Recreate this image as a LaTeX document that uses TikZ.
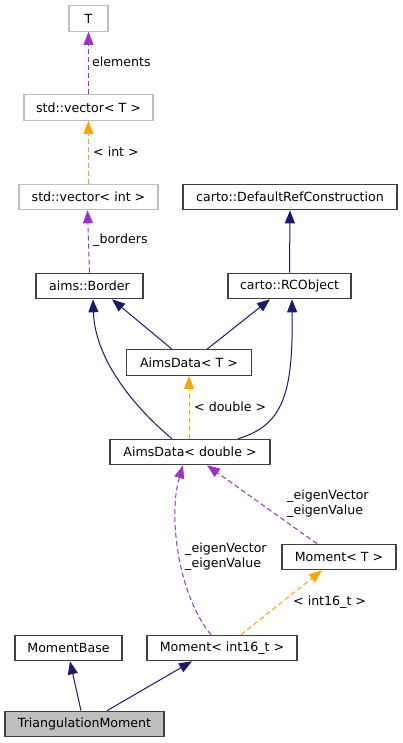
\documentclass[tikz,border=0pt]{standalone}
\usepackage{fontspec}
\setmainfont{DejaVu Sans}
\usetikzlibrary{arrows.meta}
\definecolor{navy}{HTML}{191970}
\definecolor{orch}{HTML}{9A32CD}
\definecolor{orng}{HTML}{FFA500}
\definecolor{boxline}{HTML}{404040}
\definecolor{lgray}{HTML}{BFBFBF}
\begin{document}
\begin{tikzpicture}[x=1pt,y=-1pt,
  txt/.style={font=\fontsize{12.6}{14.7}\selectfont},
  box/.style={txt, draw=boxline, line width=1.1pt, minimum height=25.5pt, inner sep=0pt},
  ext/.style={box, draw=lgray},
  tip/.style={-{Triangle[length=13pt,width=10pt]}},
  inh/.style={tip, draw=navy, line width=1pt},
  use/.style={tip, draw=orch, line width=1pt, dash pattern=on 5pt off 3pt},
  tmpl/.style={tip, draw=orng, line width=1pt, dash pattern=on 5pt off 3pt},
  lbl/.style={txt, anchor=west, inner sep=0pt, align=left}]
\fill[white] (0,0) rectangle (403,743);
\useasboundingbox (0,0) rectangle (403,743);

\node[ext, minimum width=39pt]  (T)      at (88.5,18.5)  {T};
\node[ext, minimum width=129pt] (vecT)   at (88.5,107.5) {std::vector< T >};
\node[ext, minimum width=139pt] (vecint) at (88.5,197)   {std::vector< int >};
\node[box, minimum width=214pt] (drc)    at (290,197)    {carto::DefaultRefConstruction};
\node[box, minimum width=107pt] (border) at (89.5,286)   {aims::Border};
\node[box, minimum width=123pt] (rco)    at (289.5,286)  {carto::RCObject};
\node[box, minimum width=125pt] (adT)    at (189,362.5)  {AimsData< T >};
\node[box, minimum width=160pt] (add)    at (190,452)    {AimsData< double >};
\node[box, minimum width=114pt] (momT)   at (339,557)    {Moment< T >};
\node[box, minimum width=107pt] (mb)     at (68.5,648)   {MomentBase};
\node[box, minimum width=150pt] (mi16)   at (222,648)    {Moment< int16\_t >};
\node[box, minimum width=159pt, fill=lgray] (tri) at (84.5,724) {TriangulationMoment};

% top chain
\draw[use]  (vecT.north) -- (T.south);
\node[lbl] (l1) at (92,62) {elements};
\draw[tmpl] (vecint.north) -- (vecT.south);
\node[lbl] (l2) at (93,152) {< int >};
\draw[use]  (border.north) -- ([xshift=-1pt]vecint.south);
\node[lbl] (l3) at (93,240) {\_borders};

\draw[inh] (rco.north) -- (drc.south);

\draw[inh] ([xshift=-17pt]adT.north) -- ([xshift=22.5pt]border.south);
\draw[inh] ([xshift=18pt]adT.north) -- ([xshift=-19.5pt]rco.south);

\draw[inh] ([xshift=-18pt]add.north) .. controls (135,408) and (95,360) .. ([xshift=3.5pt]border.south);
\draw[inh] ([xshift=48pt]add.north) .. controls (285,425) and (293,390) .. ([xshift=2.5pt]rco.south);

\draw[tmpl] ([xshift=-1pt]add.north) -- (adT.south);
\node[lbl] (l4) at (194,406.5) {< double >};

\draw[use] ([xshift=-22pt]momT.north) -- ([xshift=17pt]add.south);
\node[lbl] (l5) at (287,503.5) {\_eigenVector\\\_eigenValue};

\draw[use] ([xshift=-11pt]mi16.north) .. controls (178,595) and (168,515) .. ([xshift=-7pt]add.south);
\node[lbl] (l6) at (185,556.5) {\_eigenVector\\\_eigenValue};

\draw[tmpl] ([xshift=19pt]mi16.north) -- ([xshift=-17pt]momT.south);
\node[lbl] (l7) at (293,602.5) {< int16\_t >};

\draw[inh] ([xshift=-3.5pt]tri.north) -- ([xshift=1.5pt]mb.south);
\draw[inh] ([xshift=22.5pt]tri.north) -- ([xshift=-30pt]mi16.south);
\end{tikzpicture}
\end{document}
